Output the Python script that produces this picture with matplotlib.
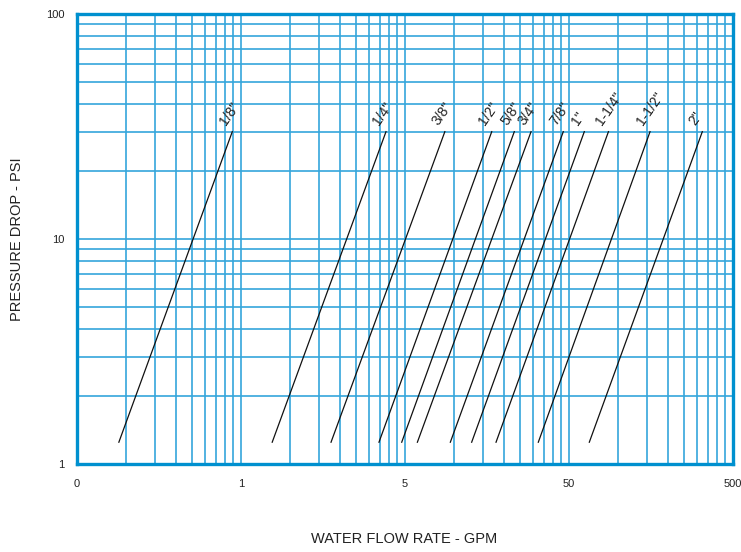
import matplotlib
matplotlib.use('Agg')
import matplotlib.pyplot as plt

plt.rcParams['font.family'] = ['Liberation Sans', 'DejaVu Sans']

# pipe sizes and flow (axis units) at low / high pressure drop
sizes = ['1/8"', '1/4"', '3/8"', '1/2"', '5/8"', '3/4"', '7/8"', '1"', '1-1/4"', '1-1/2"', '2"']
flow_low = [0.18, 1.55, 3.54, 6.94, 9.55, 11.9, 18.9, 25.5, 35.9, 65, 133]
flow_high = [0.885, 7.66, 17.5, 33.8, 46.4, 58.7, 92.3, 124, 174, 312, 650]
psi_low = 1.25
psi_high = 30

x_ticks = [0.1, 1, 10, 100, 1000]
x_labels = ['0', '1', '5', '50', '500']
y_ticks = [1, 10, 100]
y_labels = ['1', '10', '100']

grid_col = '#35a6dc'
spine_col = '#0090cf'

fig = plt.figure(figsize=(7.41, 5.52), dpi=100)
ax = fig.add_axes([0.1039, 0.1594, 0.8853, 0.8152])
ax.set_xscale('log')
ax.set_yscale('log')
ax.set_xlim(0.1, 1000)
ax.set_ylim(1, 100)

# grid lines
for dec in [0.1, 1, 10, 100]:
    for k in range(1, 10):
        v = dec * k
        if v > 0.1:
            ax.axvline(v, color=grid_col, lw=1.2, zorder=1)
for dec in [1, 10]:
    for k in range(1, 10):
        v = dec * k
        if v > 1:
            ax.axhline(v, color=grid_col, lw=1.2, zorder=1)

for i in range(len(sizes)):
    ax.plot([flow_low[i], flow_high[i]], [psi_low, psi_high], color='#111111', lw=0.9, zorder=3)
    ax.annotate(sizes[i], xy=(flow_high[i], psi_high), xytext=(-3, 3), textcoords='offset points',
                rotation=55, rotation_mode='anchor', ha='left', va='bottom', fontsize=10, color='#222222')

ax.set_xticks(x_ticks)
ax.set_xticklabels(x_labels)
ax.set_yticks(y_ticks)
ax.set_yticklabels(y_labels)
ax.minorticks_off()
ax.tick_params(length=0, labelsize=8, colors='#222222', pad=9)
ax.tick_params(axis='x', pad=11)

for s in ax.spines.values():
    s.set_color(spine_col)
    s.set_linewidth(2.4)
    s.set_zorder(4)

ax.set_ylabel('PRESSURE DROP - PSI', fontsize=10.5, color='#222222', labelpad=16)
fig.text(404 / 741, 1 - 539 / 552, 'WATER FLOW RATE - GPM', ha='center', va='center', fontsize=10.5, color='#222222')

plt.savefig('out.png', dpi=100)
